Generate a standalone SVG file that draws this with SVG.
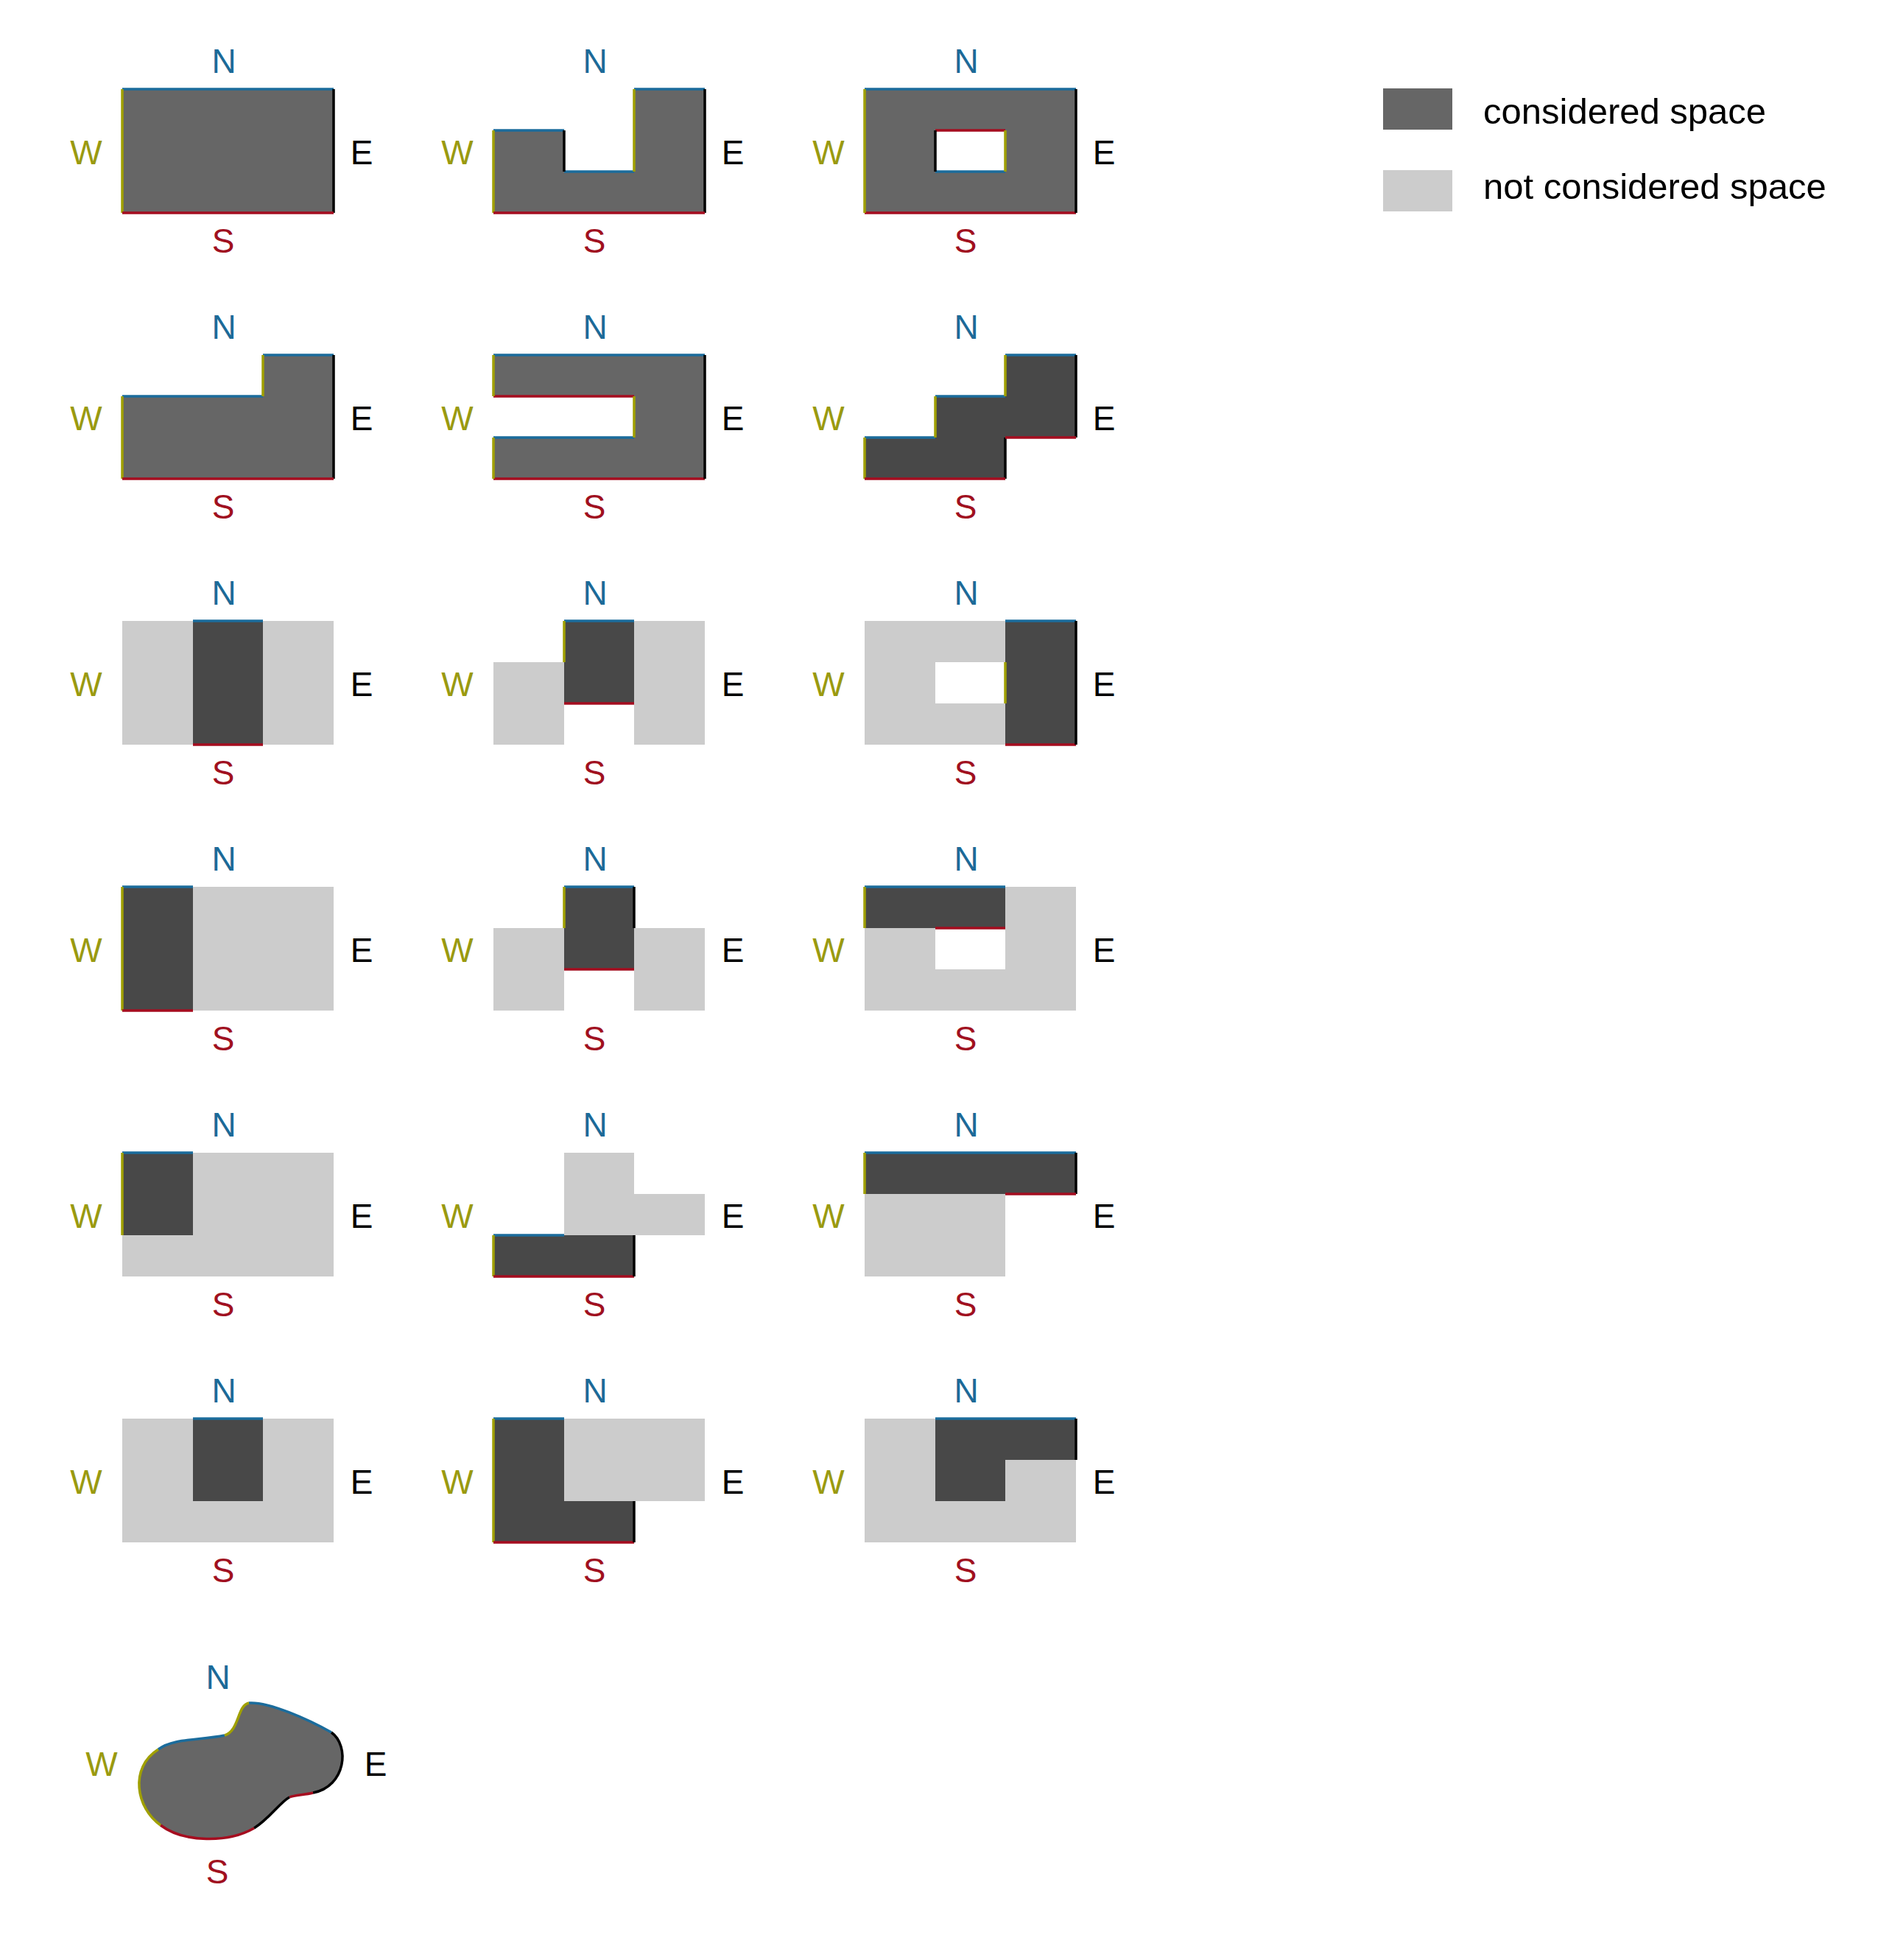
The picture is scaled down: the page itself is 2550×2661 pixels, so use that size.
<svg xmlns="http://www.w3.org/2000/svg" width="2550" height="2661" viewBox="0 0 2550 2661">
<style>
text{font-family:"Liberation Sans",Arial,sans-serif;font-size:46px}
.tn{fill:#1c6a98;text-anchor:middle}
.tw{fill:#9a9a10;text-anchor:middle}
.te{fill:#000;text-anchor:middle}
.ts{fill:#a01020;text-anchor:middle}
.c{fill:#666666}
.d{fill:#484848}
.l{fill:#cccccc}
.n,.w,.e,.s{fill:none;stroke-width:3.5}
.n{stroke:#1b6c9c}
.w{stroke:#a0a000}
.e{stroke:#000}
.s{stroke:#a50d1f}
.leg{font-size:49px;fill:#000}
</style>
<defs>
<g id="lbl">
<text class="tn" x="138" y="-22">N</text>
<text class="tw" x="-49" y="102">W</text>
<text class="te" x="325" y="102">E</text>
<text class="ts" x="137" y="222">S</text>
</g>
</defs>
<rect width="2550" height="2661" fill="#fff"/>

<g id="shape-r1c1" transform="translate(166,121)">
<rect class="c" x="0" y="0" width="287" height="168"/>
<path class="n" d="M0,0H287"/><path class="w" d="M0,0V168"/><path class="e" d="M287,0V168"/><path class="s" d="M0,168H287"/>
<use href="#lbl"/>
</g>
<g id="shape-r1c2" transform="translate(670,121)">
<path class="c" d="M0,56H96V112H191V0H287V168H0Z"/>
<path class="n" d="M0,56H96M96,112H191M191,0H287"/>
<path class="e" d="M96,56V112M287,0V168"/>
<path class="w" d="M0,56V168M191,0V112"/>
<path class="s" d="M0,168H287"/>
<use href="#lbl"/>
</g>
<g id="shape-r1c3" transform="translate(1174,121)">
<path class="c" fill-rule="evenodd" d="M0,0H287V168H0Z M96,56V112H191V56Z"/>
<path class="n" d="M0,0H287M96,112H191"/>
<path class="s" d="M0,168H287M96,56H191"/>
<path class="w" d="M0,0V168M191,56V112"/>
<path class="e" d="M287,0V168M96,56V112"/>
<use href="#lbl"/>
</g>

<g id="shape-r2c1" transform="translate(166,482)">
<path class="c" d="M0,56H191V0H287V168H0Z"/>
<path class="n" d="M0,56H191M191,0H287"/>
<path class="w" d="M0,56V168M191,0V56"/>
<path class="e" d="M287,0V168"/>
<path class="s" d="M0,168H287"/>
<use href="#lbl"/>
</g>
<g id="shape-r2c2" transform="translate(670,482)">
<path class="c" d="M0,0H287V168H0V112H191V56H0Z"/>
<path class="n" d="M0,0H287M0,112H191"/>
<path class="s" d="M0,168H287M0,56H191"/>
<path class="w" d="M0,0V56M0,112V168M191,56V112"/>
<path class="e" d="M287,0V168"/>
<use href="#lbl"/>
</g>
<g id="shape-r2c3" transform="translate(1174,482)">
<path class="d" d="M0,112H96V56H191V0H287V112H191V168H0Z"/>
<path class="n" d="M0,112H96M96,56H191M191,0H287"/>
<path class="w" d="M0,112V168M96,56V112M191,0V56"/>
<path class="e" d="M287,0V112M191,112V168"/>
<path class="s" d="M0,168H191M191,112H287"/>
<use href="#lbl"/>
</g>

<g id="shape-r3c1" transform="translate(166,843)">
<rect class="l" x="0" y="0" width="287" height="168"/>
<rect class="d" x="96" y="0" width="95" height="168"/>
<path class="n" d="M96,0H191"/><path class="s" d="M96,168H191"/>
<use href="#lbl"/>
</g>
<g id="shape-r3c2" transform="translate(670,843)">
<rect class="l" x="0" y="56" width="96" height="112"/>
<rect class="l" x="191" y="0" width="96" height="168"/>
<rect class="d" x="96" y="0" width="95" height="112"/>
<path class="n" d="M96,0H191"/><path class="s" d="M96,112H191"/><path class="w" d="M96,0V56"/>
<use href="#lbl"/>
</g>
<g id="shape-r3c3" transform="translate(1174,843)">
<path class="l" fill-rule="evenodd" d="M0,0H191V168H0Z M96,56H191V112H96Z"/>
<rect class="d" x="191" y="0" width="96" height="168"/>
<path class="n" d="M191,0H287"/><path class="s" d="M191,168H287"/><path class="e" d="M287,0V168"/><path class="w" d="M191,56V112"/>
<use href="#lbl"/>
</g>

<g id="shape-r4c1" transform="translate(166,1204)">
<rect class="l" x="0" y="0" width="287" height="168"/>
<rect class="d" x="0" y="0" width="96" height="168"/>
<path class="n" d="M0,0H96"/><path class="w" d="M0,0V168"/><path class="s" d="M0,168H96"/>
<use href="#lbl"/>
</g>
<g id="shape-r4c2" transform="translate(670,1204)">
<rect class="l" x="0" y="56" width="96" height="112"/>
<rect class="l" x="191" y="56" width="96" height="112"/>
<rect class="d" x="96" y="0" width="95" height="112"/>
<path class="n" d="M96,0H191"/><path class="s" d="M96,112H191"/><path class="w" d="M96,0V56"/><path class="e" d="M191,0V56"/>
<use href="#lbl"/>
</g>
<g id="shape-r4c3" transform="translate(1174,1204)">
<path class="l" d="M0,56H96V112H191V0H287V168H0Z"/>
<rect class="d" x="0" y="0" width="191" height="56"/>
<path class="n" d="M0,0H191"/><path class="w" d="M0,0V56"/><path class="s" d="M96,56H191"/>
<use href="#lbl"/>
</g>

<g id="shape-r5c1" transform="translate(166,1565)">
<rect class="l" x="0" y="0" width="287" height="168"/>
<rect class="d" x="0" y="0" width="96" height="112"/>
<path class="n" d="M0,0H96"/><path class="w" d="M0,0V112"/>
<use href="#lbl"/>
</g>
<g id="shape-r5c2" transform="translate(670,1565)">
<rect class="l" x="96" y="0" width="95" height="112"/>
<rect class="l" x="191" y="56" width="96" height="56"/>
<rect class="d" x="0" y="112" width="191" height="56"/>
<path class="n" d="M0,112H96"/><path class="w" d="M0,112V168"/><path class="s" d="M0,168H191"/><path class="e" d="M191,112V168"/>
<use href="#lbl"/>
</g>
<g id="shape-r5c3" transform="translate(1174,1565)">
<rect class="l" x="0" y="56" width="191" height="112"/>
<rect class="d" x="0" y="0" width="287" height="56"/>
<path class="n" d="M0,0H287"/><path class="w" d="M0,0V56"/><path class="e" d="M287,0V56"/><path class="s" d="M191,56H287"/>
<use href="#lbl"/>
</g>

<g id="shape-r6c1" transform="translate(166,1926)">
<rect class="l" x="0" y="0" width="287" height="168"/>
<rect class="d" x="96" y="0" width="95" height="112"/>
<path class="n" d="M96,0H191"/>
<use href="#lbl"/>
</g>
<g id="shape-r6c2" transform="translate(670,1926)">
<rect class="l" x="96" y="0" width="191" height="112"/>
<path class="d" d="M0,0H96V112H191V168H0Z"/>
<path class="n" d="M0,0H96"/><path class="w" d="M0,0V168"/><path class="s" d="M0,168H191"/><path class="e" d="M191,112V168"/>
<use href="#lbl"/>
</g>
<g id="shape-r6c3" transform="translate(1174,1926)">
<rect class="l" x="0" y="0" width="287" height="168"/>
<path class="d" d="M96,0H287V56H191V112H96Z"/>
<path class="n" d="M96,0H287"/><path class="e" d="M287,0V56"/>
<use href="#lbl"/>
</g>

<g id="shape-blob">
<path class="c" d="M338,2312C365,2310 420,2335 450,2352C475,2370 470,2425 425,2434C413,2437 400,2437 393,2440C380,2447 365,2470 345,2482C310,2502 250,2502 218,2478C185,2455 175,2400 215,2375C235,2360 270,2363 305,2356C325,2350 322,2315 338,2312Z"/>
<path class="n" d="M338,2312C365,2310 420,2335 450,2352"/>
<path class="e" d="M450,2352C475,2370 470,2425 425,2434"/>
<path class="s" d="M425,2434C413,2437 400,2437 393,2440"/>
<path class="e" d="M393,2440C380,2447 365,2470 345,2482"/>
<path class="s" d="M345,2482C310,2502 250,2502 218,2478"/>
<path class="w" d="M218,2478C185,2455 175,2400 215,2375"/>
<path class="n" d="M215,2375C235,2360 270,2363 305,2356"/>
<path class="w" d="M305,2356C325,2350 322,2315 338,2312"/>
<text class="tn" x="296" y="2293">N</text>
<text class="tw" x="138" y="2411">W</text>
<text class="te" x="510" y="2411">E</text>
<text class="ts" x="295" y="2557">S</text>
</g>

<g id="legend">
<g id="legend-considered">
<rect class="c" x="1878" y="120" width="94" height="56"/>
<text class="leg" x="2014" y="168">considered space</text>
</g>
<g id="legend-not-considered">
<rect class="l" x="1878" y="231" width="94" height="56"/>
<text class="leg" x="2014" y="270">not considered space</text>
</g>
</g>
<g id="connectors"/>
</svg>
